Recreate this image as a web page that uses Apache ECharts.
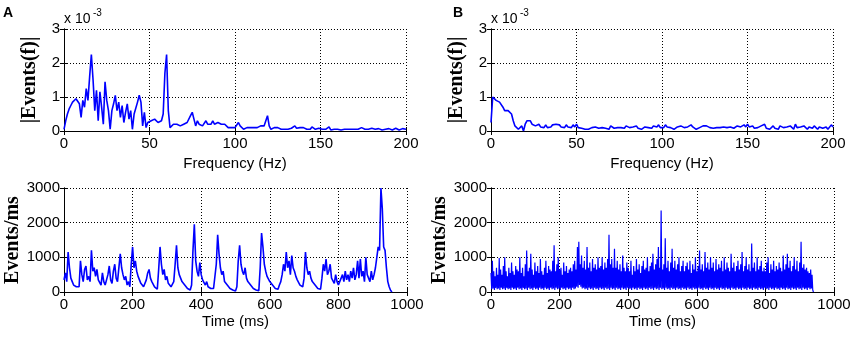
<!DOCTYPE html>
<html>
<head>
<meta charset="utf-8">
<script src="https://cdn.jsdelivr.net/npm/echarts@6/dist/echarts.min.js"></script>
<style>
  html, body { margin: 0; background: #fff; }
  #chart { width: 856px; height: 337px; }
</style>
</head>
<body>
<div id="chart"></div>
<script>
// spectra, in units of 1e-3, one value per Hz from 0 to 200
var freqStep = 1;
var specA = [
  0.05, 0.3, 0.5, 0.65, 0.75, 0.85, 0.9, 0.95, 0.95, 0.8,
  0.4, 0.9, 0.7, 1.25, 0.9, 1.6, 2.25, 1.5, 0.6, 1.2,
  0.3, 1.15, 0.7, 0.2, 1.45, 0.9, 0.6, 0.05, 0.6, 0.8,
  1.05, 0.6, 0.85, 0.4, 0.75, 0.25, 0.55, 0.8, 0.35, 0.6,
  0.05, 0.5, 0.45, 0.85, 1.05, 0.85, 0.15, 0.55, 0.1, 0.25,
  0.3, 0.3, 0.35, 0.35, 0.3, 0.25, 0.25, 0.3, 0.5, 1.7,
  2.25, 0.6, 0.1, 0.15, 0.2, 0.15, 0.2, 0.25, 0.15, 0.1,
  0.2, 0.25, 0.25, 0.3, 0.45, 0.55, 0.35, 0.15, 0.3, 0.2,
  0.25, 0.15, 0.2, 0.3, 0.2, 0.25, 0.2, 0.3, 0.2, 0.2,
  0.25, 0.3, 0.2, 0.15, 0.2, 0.15, 0.1, 0.15, 0.1, 0.15,
  0.1, 0.15, 0.25, 0.15, 0.1, 0.05, 0.1, 0.1, 0.05, 0.1,
  0.15, 0.1, 0.15, 0.1, 0.15, 0.15, 0.2, 0.15, 0.2, 0.45,
  0.15, 0.05, 0.05, 0.1, 0.05, 0.1, 0.05, 0.05, 0.1, 0.05,
  0.08, 0.05, 0.1, 0.08, 0.1, 0.15, 0.08, 0.05, 0.1, 0.05,
  0.1, 0.12, 0.05, 0.1, 0.05, 0.12, 0.08, 0.05, 0.1, 0.08,
  0.12, 0.05, 0.08, 0.05, 0.1, 0.12, 0.03, 0.05, 0.05, 0.03,
  0.05, 0.05, 0.03, 0.05, 0.05, 0.08, 0.05, 0.03, 0.05, 0.07,
  0.05, 0.03, 0.05, 0.08, 0.1, 0.08, 0.05, 0.03, 0.05, 0.05,
  0.08, 0.05, 0.05, 0.03, 0.07, 0.05, 0.03, 0.06, 0.05, 0.03,
  0.07, 0.05, 0.03, 0.05, 0.08, 0.05, 0.03, 0.06, 0.07, 0.04,
  0.05
];
var specB = [
  0.25, 1.0, 0.95, 0.9, 0.95, 0.85, 0.8, 0.7, 0.6, 0.55,
  0.6, 0.55, 0.5, 0.3, 0.15, 0.1, 0.05, 0.1, 0.15, 0.0,
  0.2, 0.3, 0.25, 0.3, 0.2, 0.25, 0.15, 0.1, 0.2, 0.12,
  0.15, 0.1, 0.18, 0.1, 0.15, 0.12, 0.18, 0.15, 0.2, 0.15,
  0.18, 0.12, 0.15, 0.1, 0.18, 0.12, 0.15, 0.1, 0.18, 0.12,
  0.2, 0.1, 0.15, 0.08, 0.12, 0.05, 0.1, 0.05, 0.08, 0.1,
  0.08, 0.12, 0.1, 0.08, 0.12, 0.1, 0.15, 0.08, 0.12, 0.05,
  0.15, 0.1, 0.08, 0.12, 0.1, 0.05, 0.1, 0.12, 0.08, 0.15,
  0.12, 0.1, 0.08, 0.12, 0.1, 0.15, 0.08, 0.1, 0.05, 0.1,
  0.12, 0.08, 0.1, 0.12, 0.08, 0.15, 0.2, 0.12, 0.18, 0.1,
  0.15, 0.1, 0.18, 0.12, 0.08, 0.1, 0.12, 0.05, 0.08, 0.12,
  0.1, 0.15, 0.12, 0.1, 0.08, 0.12, 0.15, 0.18, 0.12, 0.1,
  0.05, 0.08, 0.1, 0.12, 0.15, 0.2, 0.15, 0.12, 0.1, 0.15,
  0.08, 0.12, 0.1, 0.05, 0.1, 0.15, 0.12, 0.08, 0.1, 0.15,
  0.12, 0.1, 0.08, 0.12, 0.15, 0.1, 0.12, 0.15, 0.18, 0.12,
  0.2, 0.12, 0.1, 0.15, 0.08, 0.12, 0.1, 0.05, 0.15, 0.1,
  0.2, 0.08, 0.12, 0.05, 0.1, 0.15, 0.08, 0.12, 0.05, 0.15,
  0.2, 0.1, 0.05, 0.12, 0.08, 0.15, 0.1, 0.05, 0.2, 0.1,
  0.05, 0.12, 0.08, 0.15, 0.1, 0.05, 0.12, 0.1, 0.08, 0.15,
  0.1, 0.05, 0.12, 0.15, 0.08, 0.1, 0.12, 0.05, 0.08, 0.18,
  0.12
];

// event rate A (events/ms), one value every 4 ms from 0 ms
var stepA = 4;
var rateA = [
  350, 550, 300, 1150, 700, 400, 300, 200, 250, 150,
  200, 150, 900, 500, 300, 650, 750, 350, 450, 300,
  1200, 600, 700, 450, 650, 350, 300, 200, 550, 300,
  200, 350, 500, 750, 350, 250, 600, 800, 400, 300,
  250, 1100, 700, 500, 350, 450, 200, 300, 150, 800,
  1300, 700, 900, 600, 450, 350, 250, 300, 150, 100,
  350, 550, 650, 400, 300, 350, 150, 200, 80, 650,
  1300, 800, 500, 650, 350, 450, 250, 300, 150, 200,
  300, 800, 1350, 700, 500, 550, 300, 350, 200, 250,
  100, 150, 60, 200, 1200, 1950, 900, 600, 450, 850,
  500, 350, 400, 200, 300, 150, 200, 100, 150, 100,
  50, 800, 1650, 1100, 700, 500, 600, 300, 350, 200,
  250, 100, 150, 60, 80, 30, 150, 900, 1350, 800,
  600, 500, 700, 400, 300, 350, 200, 250, 100, 150,
  60, 80, 40, 700, 1700, 1300, 800, 600, 450, 500,
  300, 350, 200, 250, 100, 150, 80, 200, 300, 500,
  800, 600, 1150, 700, 900, 500, 1050, 700, 600, 450,
  350, 400, 200, 250, 150, 400, 1150, 700, 500, 600,
  400, 300, 350, 200, 250, 100, 150, 80, 400, 800,
  600, 950, 500, 600, 800, 400, 350, 250, 500, 300,
  200, 150, 400, 500, 300, 600, 350, 500, 300, 600,
  400, 700, 350, 500, 900, 400, 950, 450, 600, 300,
  1000, 500, 400, 300, 600, 350, 500, 700, 1000, 1300,
  1200, 3000, 2400, 1300, 1200, 700, 300, 150, 50, 0
];

// event rate B (events/ms), one value every 2 ms from 0 ms, 40 ms per row
var stepB = 2;
var rateB = [
  550, 80, 900, 100, 600, 60, 450, 120, 700, 80, 500, 100, 980, 60, 650, 120, 500, 80, 750, 100,
  1000, 60, 600, 120, 450, 80, 700, 100, 550, 60, 850, 120, 600, 80, 500, 100, 750, 60, 650, 120,
  600, 80, 1000, 100, 550, 60, 700, 120, 450, 80, 800, 100, 1200, 60, 600, 120, 700, 80, 1100, 100,
  650, 60, 500, 120, 850, 80, 600, 100, 750, 60, 550, 120, 950, 80, 600, 100, 500, 60, 700, 120,
  900, 80, 550, 100, 750, 60, 650, 120, 600, 80, 900, 100, 1350, 60, 600, 120, 800, 80, 1000, 100,
  650, 60, 700, 120, 500, 80, 850, 100, 600, 60, 750, 120, 550, 80, 650, 100, 700, 60, 600, 120,
  800, 80, 900, 100, 650, 150, 1300, 120, 1450, 200, 800, 150, 1050, 100, 700, 120, 900, 80, 650, 100,
  1300, 60, 700, 120, 850, 80, 600, 100, 950, 60, 700, 120, 800, 80, 650, 100, 1000, 60, 700, 120,
  750, 80, 1000, 100, 650, 60, 850, 120, 700, 80, 950, 100, 1650, 60, 800, 120, 950, 80, 700, 100,
  1250, 60, 700, 120, 900, 80, 650, 100, 800, 60, 600, 120, 1050, 80, 700, 100, 600, 60, 850, 120,
  700, 80, 600, 100, 900, 60, 500, 120, 750, 80, 600, 100, 950, 60, 650, 120, 800, 80, 550, 100,
  750, 60, 900, 120, 650, 80, 700, 100, 1000, 60, 600, 120, 750, 80, 850, 100, 1100, 60, 650, 120,
  800, 80, 950, 100, 1300, 60, 700, 120, 2350, 80, 650, 100, 800, 60, 1550, 120, 700, 80, 900, 100,
  600, 60, 850, 120, 1250, 80, 700, 100, 900, 60, 650, 120, 800, 80, 1000, 100, 600, 60, 750, 120,
  900, 80, 600, 100, 750, 60, 850, 120, 650, 80, 900, 100, 550, 60, 800, 120, 650, 80, 1000, 100,
  600, 60, 750, 120, 1200, 80, 650, 100, 800, 60, 600, 120, 1150, 80, 700, 100, 850, 60, 650, 120,
  1000, 80, 700, 100, 850, 60, 600, 120, 950, 80, 650, 100, 800, 60, 700, 120, 900, 80, 600, 100,
  1000, 60, 650, 120, 850, 80, 700, 100, 600, 60, 1100, 120, 700, 80, 850, 100, 600, 60, 750, 120,
  900, 80, 650, 100, 800, 60, 1150, 120, 600, 80, 750, 100, 1000, 60, 650, 120, 800, 80, 600, 100,
  1400, 60, 700, 120, 850, 80, 600, 100, 1000, 60, 650, 120, 750, 80, 900, 100, 600, 60, 700, 120,
  600, 80, 850, 100, 1000, 60, 550, 120, 800, 80, 650, 100, 900, 60, 600, 120, 750, 80, 650, 100,
  850, 60, 700, 120, 600, 80, 1050, 100, 650, 60, 800, 120, 1100, 80, 700, 100, 900, 60, 600, 120,
  750, 80, 1000, 100, 650, 60, 900, 120, 600, 80, 850, 100, 1450, 60, 700, 120, 800, 80, 650, 100,
  700, 60, 600, 120, 550, 80, 650, 100, 500, 60,
  0
];

var specTicks = [0, 50, 100, 150, 200];
var timeTicks = [0, 200, 400, 600, 800, 1000];

var chart = echarts.init(document.getElementById('chart'), null, { renderer: 'canvas' });

var sans = 'Liberation Sans, Arial, sans-serif';
var serif = 'Liberation Serif, Times New Roman, serif';

function pairs(vals, step) {
  return vals.map(function(v, i) { return [i * step, v]; });
}

function plain(v) {
  return String(v);
}

var grids = [
  { left: 64, top: 29, width: 342, height: 102 },
  { left: 491, top: 29, width: 342, height: 102 },
  { left: 64, top: 188, width: 343, height: 104 },
  { left: 491, top: 188, width: 343, height: 104 }
];

var xAxes = [];
var yAxes = [];
grids.forEach(function(g, i) {
  var isSpec = i < 2;
  var xt = isSpec ? specTicks : timeTicks;
  var xMax = xt[xt.length - 1];
  var xInt = xt[1] - xt[0];
  xAxes.push({
    type: 'value', gridIndex: i, min: 0, max: xMax, interval: xInt,
    name: isSpec ? 'Frequency (Hz)' : 'Time (ms)',
    nameLocation: 'middle', nameGap: isSpec ? 25 : 22,
    nameTextStyle: { color: '#000', fontFamily: sans, fontSize: 15 },
    axisLine: { lineStyle: { color: '#000', width: 1 } },
    axisTick: { inside: true, length: 4, lineStyle: { color: '#000' } },
    axisLabel: { color: '#000', fontFamily: sans, fontSize: 15, margin: 5, formatter: plain },
    splitLine: { show: true, lineStyle: { color: '#000', type: [1, 2], width: 1 } }
  });
  xAxes.push({
    type: 'value', gridIndex: i, position: 'top', min: 0, max: xMax, interval: xInt,
    axisLine: { lineStyle: { color: '#000' } },
    axisTick: { inside: true, length: 4, lineStyle: { color: '#000' } },
    axisLabel: { show: false }, splitLine: { show: false }
  });
  yAxes.push({
    type: 'value', gridIndex: i, min: 0, max: isSpec ? 3 : 3000, interval: isSpec ? 1 : 1000,
    name: isSpec ? '|Events(f)|' : 'Events/ms',
    nameLocation: 'middle', nameGap: isSpec ? 24 : 38,
    nameTextStyle: { color: '#000', fontFamily: serif, fontWeight: 'bold', fontSize: 20 },
    axisLine: { lineStyle: { color: '#000', width: 1 } },
    axisTick: { inside: true, length: 4, lineStyle: { color: '#000' } },
    axisLabel: { color: '#000', fontFamily: sans, fontSize: 15, margin: 4, formatter: plain },
    splitLine: { show: true, lineStyle: { color: '#000', type: [1, 2], width: 1 } }
  });
  yAxes.push({
    type: 'value', gridIndex: i, position: 'right', min: 0, max: isSpec ? 3 : 3000, interval: isSpec ? 1 : 1000,
    axisLine: { lineStyle: { color: '#000' } },
    axisTick: { inside: true, length: 4, lineStyle: { color: '#000' } },
    axisLabel: { show: false }, splitLine: { show: false }
  });
});

var seriesData = [
  pairs(specA, freqStep),
  pairs(specB, freqStep),
  pairs(rateA, stepA),
  pairs(rateB, stepB)
];
var lineWidths = [1.6, 1.6, 1.6, 1.2];

chart.setOption({
  animation: false,
  backgroundColor: '#fff',
  grid: grids,
  xAxis: xAxes,
  yAxis: yAxes,
  series: seriesData.map(function(d, i) {
    return {
      type: 'line', xAxisIndex: i * 2, yAxisIndex: i * 2, data: d,
      showSymbol: false, silent: true,
      lineStyle: { color: '#0000ff', width: lineWidths[i] }
    };
  }),
  graphic: [
    { type: 'text', left: 3, top: 6, style: { text: 'A', font: 'bold 14px ' + sans, fill: '#000' } },
    { type: 'text', left: 453, top: 6, style: { text: 'B', font: 'bold 14px ' + sans, fill: '#000' } },
    { type: 'text', left: 64, top: 12, style: { text: 'x 10', font: '14px ' + sans, fill: '#000' } },
    { type: 'text', left: 93, top: 8, style: { text: '-3', font: '10px ' + sans, fill: '#000' } },
    { type: 'text', left: 491, top: 12, style: { text: 'x 10', font: '14px ' + sans, fill: '#000' } },
    { type: 'text', left: 520, top: 8, style: { text: '-3', font: '10px ' + sans, fill: '#000' } }
  ]
});

window.addEventListener('resize', function() {
  chart.resize();
});
</script>
</body>
</html>
